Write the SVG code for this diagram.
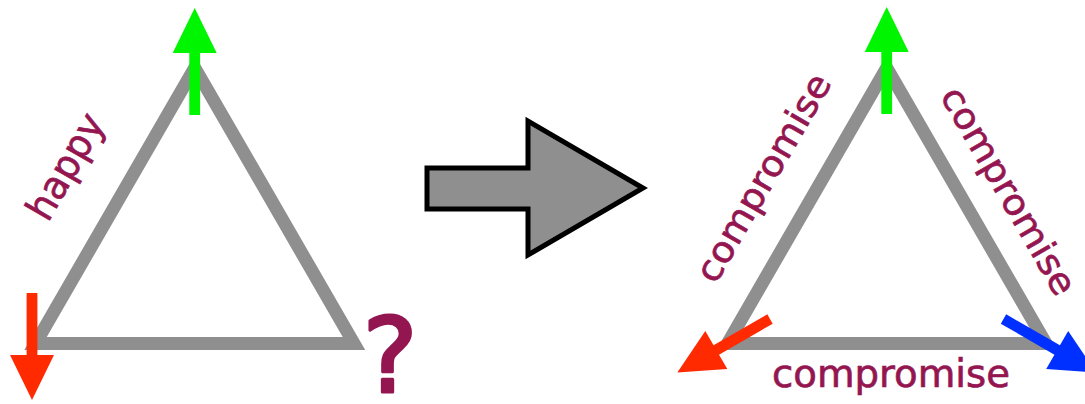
<svg xmlns="http://www.w3.org/2000/svg" xmlns:xlink="http://www.w3.org/1999/xlink" width="1085" height="404" viewBox="0 0 1085 404">
  <style>
    .tri { fill: none; stroke: #8f8f8f; stroke-width: 13; stroke-linejoin: miter; stroke-miterlimit: 10; }
    .lbl { font-family: "DejaVu Sans", "Liberation Sans", sans-serif; fill: #941651; stroke: #941651; stroke-width: 0.7; font-size: 39px; }
    .rot { font-size: 36px; }
    .q { font-family: "DejaVu Sans", "Liberation Sans", sans-serif; fill: #941651; stroke: #941651; stroke-width: 3; stroke-linejoin: round; font-size: 104px; }
    .big { fill: #8f8f8f; stroke: #000000; stroke-width: 5; stroke-linejoin: miter; }
  </style>
  <defs>
    <g id="arr">
      <rect x="0" y="-5.4" width="63" height="10.8"/>
      <polygon points="62,-22 107,0 62,22"/>
    </g>
  </defs>
  <rect width="1085" height="404" fill="#ffffff"/>

  <g id="left-triangle">
    <polygon class="tri" points="35.5,343.5 354,343.5 194.7,67.7"/>
  </g>
  <g id="right-triangle">
    <polygon class="tri" points="727.5,343.5 1046,343.5 886.7,67.7"/>
  </g>

  <g id="transform-arrow">
    <polygon class="big" points="427,168 528,168 528,121 643,188 528,255 528,209 427,209"/>
  </g>

  <g id="connectors">
    <use xlink:href="#arr" href="#arr" fill="#00f500" transform="translate(194.7,115) rotate(-90)"/>
    <use xlink:href="#arr" href="#arr" fill="#ff2a00" transform="translate(32,293) rotate(90)"/>
    <use xlink:href="#arr" href="#arr" fill="#00f500" transform="translate(886.7,114) rotate(-90)"/>
    <use xlink:href="#arr" href="#arr" fill="#ff2a00" transform="translate(770,319) rotate(150)"/>
    <use xlink:href="#arr" href="#arr" fill="#0030ff" transform="translate(1003.5,319) rotate(30)"/>
  </g>

  <g id="labels">
    <text class="lbl" text-anchor="middle" textLength="116" lengthAdjust="spacingAndGlyphs" transform="translate(77,173) rotate(-60)" x="0" y="0">happy</text>
    <text class="q" text-anchor="middle" x="390" y="392">?</text>
    <text class="lbl rot" text-anchor="middle" textLength="234" lengthAdjust="spacingAndGlyphs" transform="translate(774,184) rotate(-60)" x="0" y="0">compromise</text>
    <text class="lbl rot" text-anchor="middle" textLength="234" lengthAdjust="spacingAndGlyphs" transform="translate(998,197) rotate(60)" x="0" y="0">compromise</text>
    <text class="lbl" textLength="238" lengthAdjust="spacingAndGlyphs" x="772" y="387">compromise</text>
  </g>
</svg>
